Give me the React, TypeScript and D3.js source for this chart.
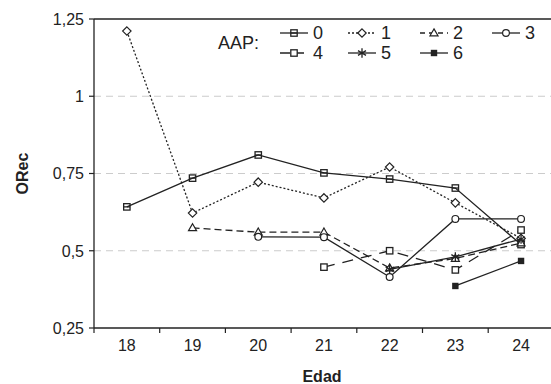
import * as d3 from 'd3';

const ages = [18, 19, 20, 21, 22, 23, 24];
const yTicks = [0.25, 0.5, 0.75, 1, 1.25];
const gridValues = [0.5, 0.75, 1];

// series values per age (null = no data)
const aap0 = [0.642, 0.735, 0.81, 0.752, 0.732, 0.703, 0.52];
const aap1 = [1.211, 0.622, 0.722, 0.671, 0.771, 0.655, 0.54];
const aap2 = [null, 0.574, 0.56, 0.56, 0.444, 0.475, 0.525];
const aap3 = [null, null, 0.545, 0.544, 0.415, 0.603, 0.603];
const aap4 = [null, null, null, 0.447, 0.5, 0.438, 0.567];
const aap5 = [null, null, null, null, 0.44, 0.48, 0.538];
const aap6 = [null, null, null, null, null, 0.386, 0.467];

type Marker = 'square' | 'diamond' | 'triangle' | 'circle' | 'openSquare' | 'star' | 'filledSquare';
const seriesList: { name: string; values: (number | null)[]; dash: string; legendDash: string; marker: Marker }[] = [
  { name: '0', values: aap0, dash: 'none', legendDash: 'none', marker: 'square' },
  { name: '1', values: aap1, dash: '2,2', legendDash: '2,2', marker: 'diamond' },
  { name: '2', values: aap2, dash: '7,4', legendDash: '5,4', marker: 'triangle' },
  { name: '3', values: aap3, dash: 'none', legendDash: 'none', marker: 'circle' },
  { name: '4', values: aap4, dash: '11,8', legendDash: '10,4', marker: 'openSquare' },
  { name: '5', values: aap5, dash: 'none', legendDash: 'none', marker: 'star' },
  { name: '6', values: aap6, dash: 'none', legendDash: 'none', marker: 'filledSquare' },
];

const W = 551;
const H = 384;
const margin = { left: 94, top: 19, bottom: 328 };
const ink = '#222';
const font = '"Liberation Sans", Arial, sans-serif';

function MarkerShape({ type, x, y }: { type: Marker; x: number; y: number }) {
  const s = 3.2;
  if (type === 'square' || type === 'openSquare') {
    return (
      <g>
        <rect x={x - s} y={y - s} width={2 * s} height={2 * s} fill={type === 'openSquare' ? 'white' : 'none'} stroke={ink} strokeWidth={1.3} />
        {type === 'square' && <line x1={x - s} x2={x + s} y1={y} y2={y} stroke={ink} strokeWidth={1.3} />}
      </g>
    );
  }
  if (type === 'filledSquare') {
    return <rect x={x - s} y={y - s} width={2 * s} height={2 * s} fill={ink} />;
  }
  if (type === 'diamond') {
    const d = 4.2;
    return <path d={`M${x},${y - d}L${x + d},${y}L${x},${y + d}L${x - d},${y}Z`} fill="white" stroke={ink} strokeWidth={1.2} />;
  }
  if (type === 'triangle') {
    return <path d={d3.symbol(d3.symbolTriangle, 28)()!} transform={`translate(${x},${y + 0.5})`} fill="white" stroke={ink} strokeWidth={1.2} />;
  }
  if (type === 'circle') {
    return <circle cx={x} cy={y} r={3.4} fill="white" stroke={ink} strokeWidth={1.2} />;
  }
  // star
  return <path d={d3.symbol(d3.symbolAsterisk, 60)()!} transform={`translate(${x},${y})`} fill="none" stroke={ink} strokeWidth={1.3} />;
}

export default function App() {
  const x = d3.scaleBand<number>().domain(ages).range([margin.left, margin.left + 65.7 * 7]).padding(0);
  const y = d3.scaleLinear().domain([0.25, 1.25]).range([margin.bottom, margin.top]);
  const cx = (a: number) => x(a)! + x.bandwidth() / 2;

  const line = d3.line<{ a: number; v: number | null }>()
    .defined((d) => d.v !== null)
    .x((d) => cx(d.a))
    .y((d) => y(d.v as number));

  const boundaries = d3.range(ages.length + 1).map((i) => margin.left + i * x.bandwidth());

  const legendX0 = 280;
  const colStep = [0, 68, 140, 212];
  const legendRows = [33, 53];

  return (
    <svg width={W} height={H} style={{ position: 'absolute', left: 0, top: 0, background: 'white', fontFamily: font }}>
      {/* grid */}
      {gridValues.map((g) => (
        <line key={g} x1={margin.left} x2={W} y1={y(g)} y2={y(g)} stroke="#ccc" strokeWidth={1.2} strokeDasharray="7,5" />
      ))}
      {/* top frame */}
      <line x1={margin.left} x2={W} y1={y(1.25)} y2={y(1.25)} stroke={ink} strokeWidth={1.3} />
      {/* axes */}
      <line x1={margin.left} x2={margin.left} y1={y(1.25)} y2={y(0.25)} stroke={ink} strokeWidth={1.3} />
      <line x1={margin.left} x2={W} y1={y(0.25)} y2={y(0.25)} stroke={ink} strokeWidth={1.3} />
      {yTicks.map((t) => (
        <g key={t}>
          <line x1={margin.left - 5} x2={margin.left} y1={y(t)} y2={y(t)} stroke={ink} strokeWidth={1.2} />
          <text x={margin.left - 10} y={y(t)} dy="0.36em" textAnchor="end" fontSize={16} fill={ink}>
            {String(t).replace('.', ',')}
          </text>
        </g>
      ))}
      {boundaries.map((b) => (
        <line key={b} x1={b} x2={b} y1={y(0.25)} y2={y(0.25) + 5} stroke={ink} strokeWidth={1.2} />
      ))}
      {ages.map((a) => (
        <text key={a} x={cx(a)} y={y(0.25) + 23} textAnchor="middle" fontSize={16} fill={ink}>{a}</text>
      ))}
      <text x={322} y={382} textAnchor="middle" fontSize={16} fontWeight="bold" fill={ink}>Edad</text>
      <text transform={`translate(28, ${y(0.75)}) rotate(-90)`} textAnchor="middle" fontSize={16} fontWeight="bold" fill={ink}>ORec</text>

      {/* series */}
      {seriesList.map((s) => {
        const pts = ages.map((a, i) => ({ a, v: s.values[i] }));
        return (
          <g key={s.name}>
            <path d={line(pts)!} fill="none" stroke={ink} strokeWidth={1.3} strokeDasharray={s.dash} />
            {pts.filter((p) => p.v !== null).map((p) => (
              <MarkerShape key={p.a} type={s.marker} x={cx(p.a)} y={y(p.v as number)} />
            ))}
          </g>
        );
      })}

      {/* legend */}
      <text x={218} y={49} fontSize={18} fill={ink}>AAP:</text>
      {seriesList.map((s, i) => {
        const row = i < 4 ? 0 : 1;
        const col = i < 4 ? i : i - 4;
        const lx = legendX0 + colStep[col];
        const ly = legendRows[row];
        return (
          <g key={s.name}>
            <line x1={lx} x2={lx + 28} y1={ly} y2={ly} stroke={ink} strokeWidth={1.3} strokeDasharray={s.legendDash} />
            <MarkerShape type={s.marker} x={lx + 14} y={ly} />
            <text x={lx + 33} y={ly} dy="0.36em" fontSize={18} fill={ink}>{s.name}</text>
          </g>
        );
      })}
    </svg>
  );
}
